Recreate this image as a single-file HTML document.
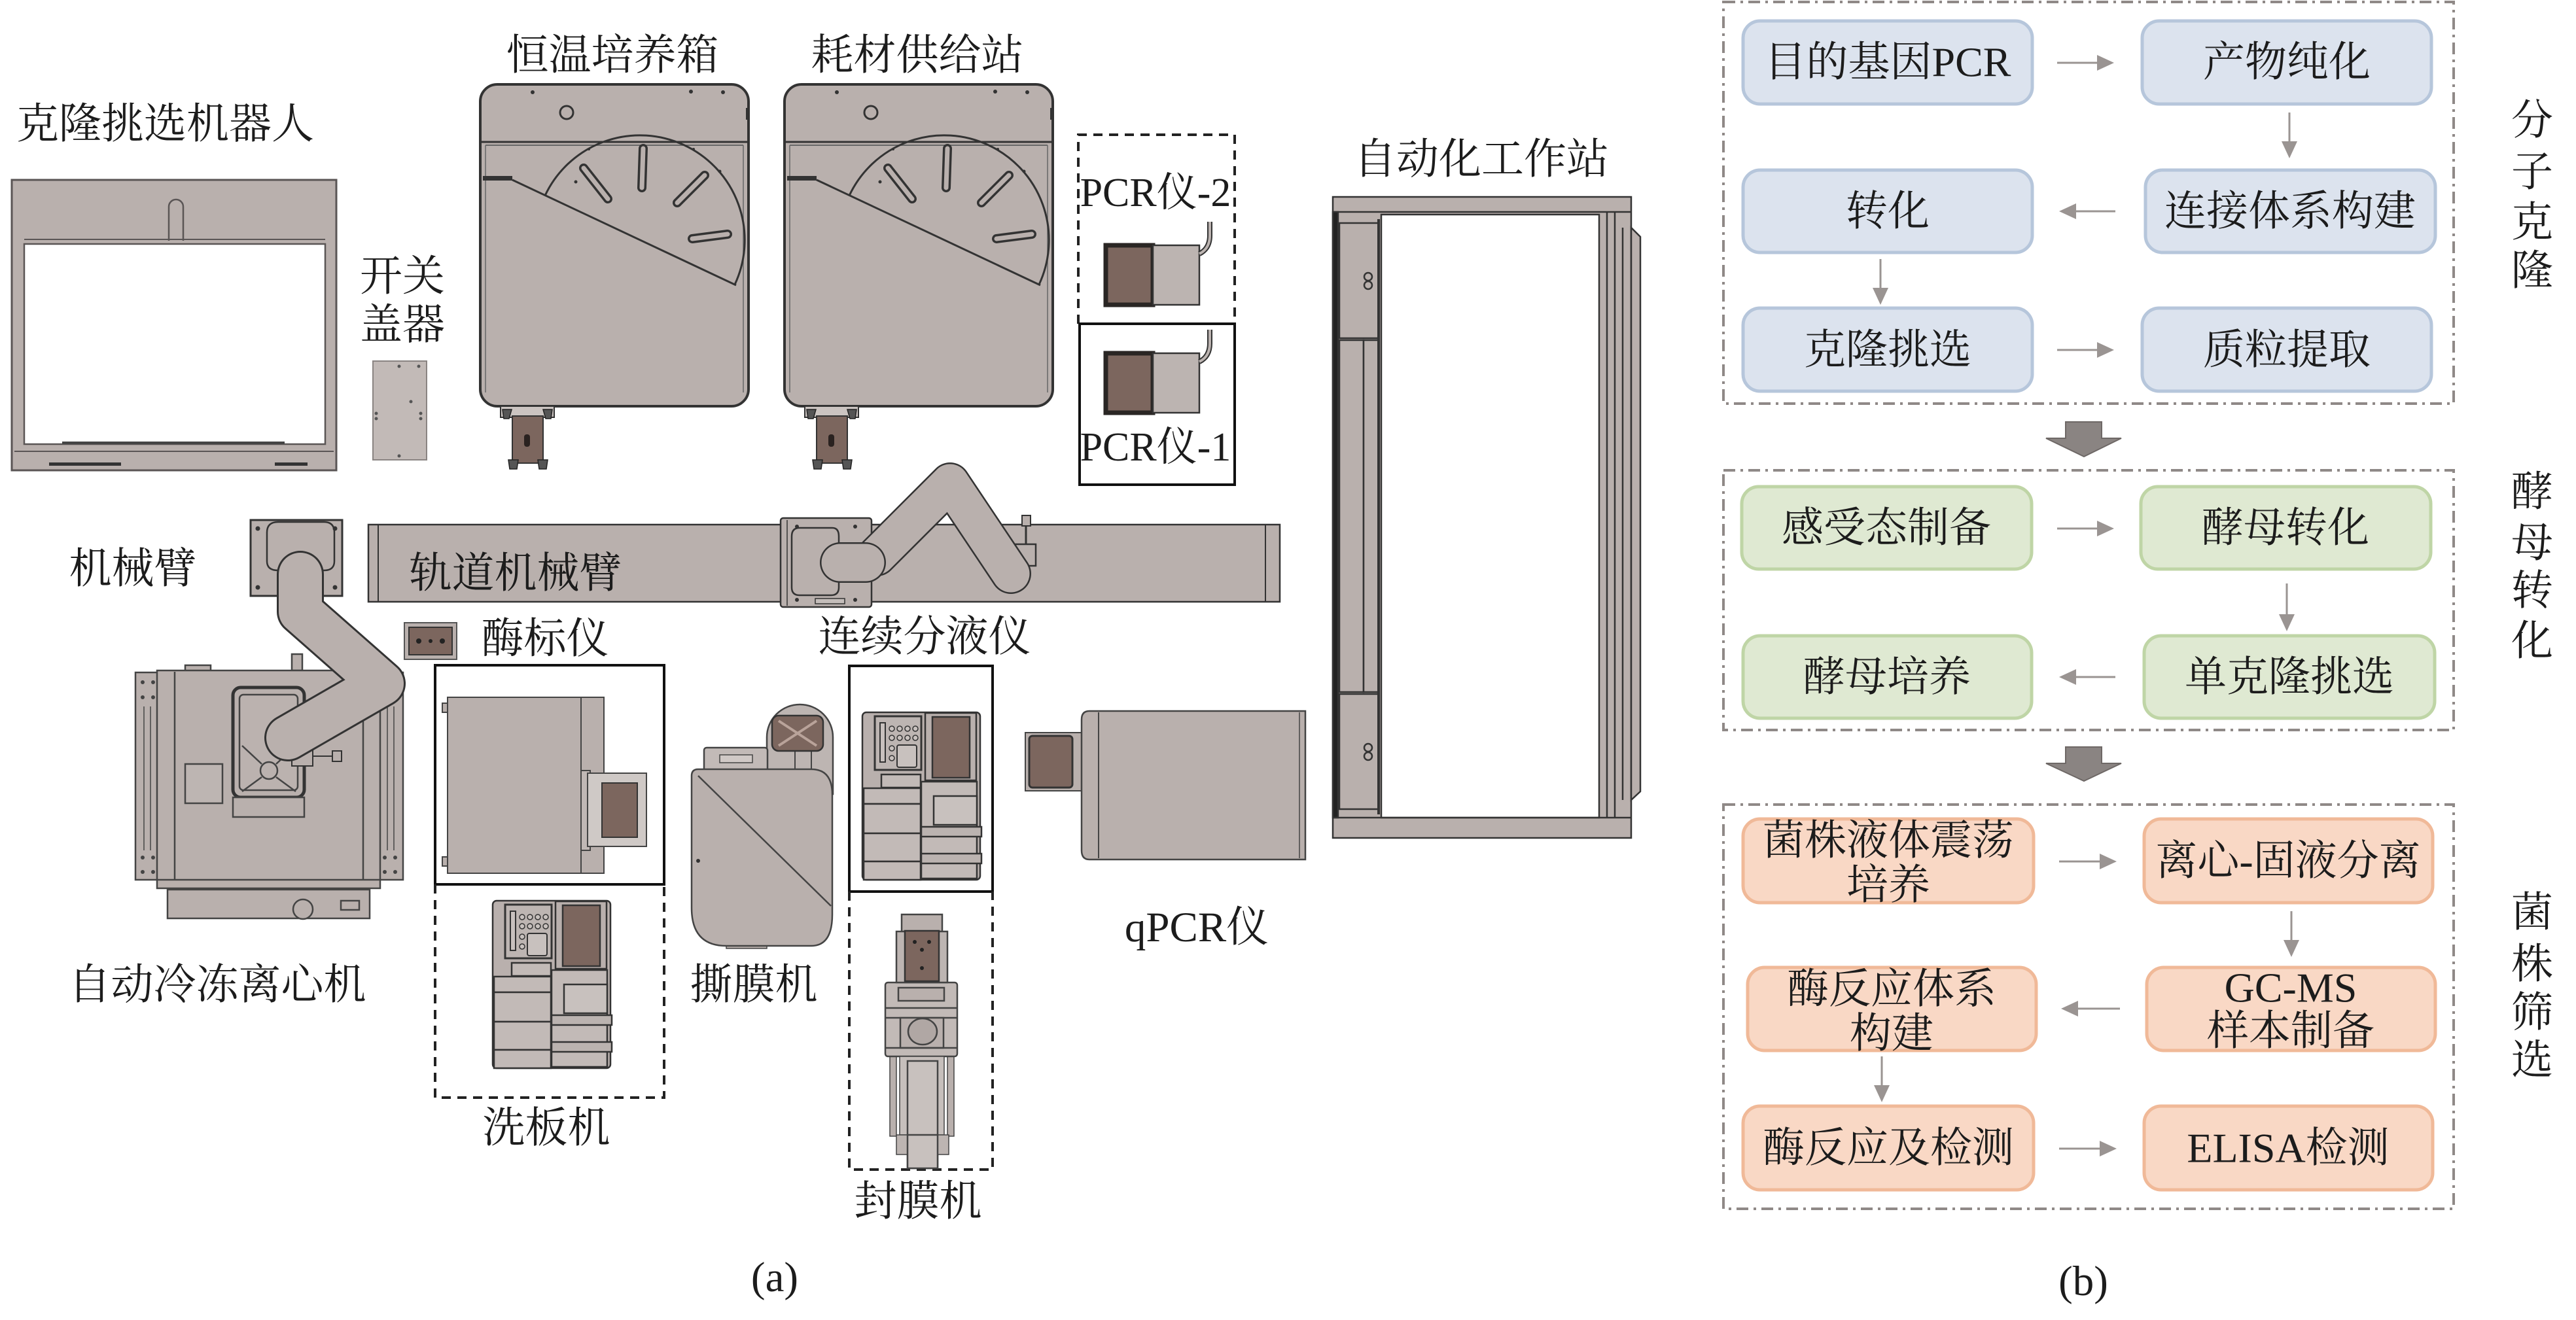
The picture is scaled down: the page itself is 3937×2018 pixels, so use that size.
<!DOCTYPE html>
<html><head><meta charset="utf-8">
<style>
html,body{margin:0;padding:0;background:#fff;}
svg{display:block;}
text{font-family:"Liberation Serif","Noto Serif CJK SC",serif;fill:#1c1c1c;}
</style></head>
<body>
<svg width="3937" height="2018" viewBox="0 0 3937 2018" xmlns="http://www.w3.org/2000/svg">
<rect x="0" y="0" width="3937" height="2018" fill="#fff"/>

<!-- ============ (a) ============ -->
<!-- cloning robot frame -->
<g stroke="#5a5555" stroke-width="3">
  <rect x="18" y="275" width="496" height="444" fill="#b9b0ad"/>
  <rect x="37" y="373" width="460" height="306" fill="#fff" stroke-width="2.5"/>
  <line x1="37" y1="366" x2="497" y2="366" stroke-width="2"/>
  <line x1="22" y1="690" x2="510" y2="690" stroke-width="2"/>
  <path d="M258,368 V316 a11,11 0 0 1 22,0 V368" fill="none" stroke-width="2.5"/>
  <rect x="75" y="707" width="110" height="5" fill="#333" stroke="none"/>
  <rect x="420" y="707" width="50" height="5" fill="#333" stroke="none"/>
  <rect x="95" y="675" width="340" height="4" fill="#444" stroke="none"/>
</g>
<!-- switch lid -->
<rect x="570" y="552" width="82" height="151" fill="#c2bab7" stroke="#8a8482" stroke-width="2"/>
<g fill="#555"><circle cx="610" cy="560" r="2.5"/><circle cx="640" cy="560" r="2.5"/><circle cx="575" cy="632" r="2.5"/><circle cx="575" cy="640" r="2.5"/><circle cx="628" cy="614" r="2.5"/><circle cx="643" cy="632" r="2.5"/><circle cx="643" cy="640" r="2.5"/><circle cx="610" cy="697" r="2.5"/></g>

<!-- incubator -->
<g id="inc">
  <rect x="734" y="129" width="410" height="492" rx="26" fill="#b9b0ad" stroke="#333" stroke-width="4"/>
  <line x1="736" y1="217" x2="1142" y2="217" stroke="#333" stroke-width="3"/>
  <line x1="742" y1="222" x2="1136" y2="222" stroke="#666" stroke-width="2"/>
  <line x1="742" y1="222" x2="742" y2="600" stroke="#666" stroke-width="1.5"/>
  <line x1="1136" y1="222" x2="1136" y2="600" stroke="#666" stroke-width="1.5"/>
  <rect x="738" y="269" width="45" height="7" fill="#333"/>
  <line x1="783" y1="275" x2="1125" y2="436" stroke="#333" stroke-width="3"/>
  <path d="M833,299 A160,160 0 0 1 1123,435" fill="none" stroke="#333" stroke-width="3"/>
  <g stroke-linecap="round">
    <line x1="929" y1="304" x2="892" y2="257" stroke="#333" stroke-width="14"/>
    <line x1="929" y1="304" x2="892" y2="257" stroke="#b9b0ad" stroke-width="7"/>
    <line x1="981" y1="287" x2="983" y2="227" stroke="#333" stroke-width="14"/>
    <line x1="981" y1="287" x2="983" y2="227" stroke="#b9b0ad" stroke-width="7"/>
    <line x1="1035" y1="310" x2="1077" y2="268" stroke="#333" stroke-width="14"/>
    <line x1="1035" y1="310" x2="1077" y2="268" stroke="#b9b0ad" stroke-width="7"/>
    <line x1="1058" y1="365" x2="1112" y2="358" stroke="#333" stroke-width="14"/>
    <line x1="1058" y1="365" x2="1112" y2="358" stroke="#b9b0ad" stroke-width="7"/>
  </g>
  <circle cx="866" cy="172" r="10" fill="none" stroke="#333" stroke-width="3"/>
  <g fill="#333"><circle cx="814" cy="141" r="3"/><circle cx="1056" cy="140" r="3"/><circle cx="1105" cy="141" r="3"/><circle cx="900" cy="228" r="2"/><circle cx="1060" cy="228" r="2"/><circle cx="1100" cy="262" r="2.5"/><circle cx="880" cy="278" r="2.5"/></g>
  <rect x="1140" y="165" width="6" height="18" fill="#333"/>
  <!-- foot -->
  <rect x="765" y="621" width="82" height="17" fill="#cbc4c1" stroke="#333" stroke-width="2"/>
  <rect x="783" y="636" width="47" height="72" fill="#7c665e" stroke="#333" stroke-width="2"/>
  <rect x="801" y="664" width="9" height="19" rx="4" fill="#2a2220"/>
  <g fill="#555" stroke="#222" stroke-width="1.5">
    <polygon points="768,626 782,626 778,640 770,640"/>
    <polygon points="830,626 844,626 842,640 834,640"/>
    <polygon points="777,703 792,703 790,717 779,717"/>
    <polygon points="822,703 837,703 835,717 824,717"/>
  </g>
</g>
<use href="#inc" x="465" y="0"/>

<!-- PCR boxes -->
<path d="M1648,495 V206 H1887 V495" fill="none" stroke="#222" stroke-width="4" stroke-dasharray="14 10"/>
<rect x="1650" y="495" width="237" height="246" fill="none" stroke="#111" stroke-width="4"/>
<g id="pcr">
  <rect x="1690" y="375" width="72" height="91" fill="#7c665e" stroke="#2a2624" stroke-width="7"/>
  <rect x="1762" y="375" width="71" height="91" fill="#bcb4b1" stroke="#333" stroke-width="2.5"/>
  <path d="M1833,388 Q1849,380 1849,360 V339" fill="none" stroke="#333" stroke-width="8"/>
  <path d="M1833,388 Q1849,380 1849,360 V339" fill="none" stroke="#bcb4b1" stroke-width="4"/>
</g>
<use href="#pcr" x="0" y="165"/>

<!-- workstation -->
<g stroke="#333" stroke-width="2.5">
  <rect x="2037" y="301" width="456" height="980" fill="#b9b0ad"/>
  <rect x="2111" y="328" width="333" height="922" fill="#fff"/>
  <line x1="2037" y1="324" x2="2493" y2="324"/>
  <line x1="2037" y1="1250" x2="2493" y2="1250"/>
  <rect x="2037" y="324" width="8" height="926" fill="#222"/>
  <rect x="2047" y="341" width="60" height="176" fill="#b9b0ad"/>
  <rect x="2047" y="520" width="37" height="538" fill="#b9b0ad"/>
  <rect x="2084" y="520" width="23" height="538" fill="#b9b0ad"/>
  <rect x="2047" y="1061" width="60" height="176" fill="#b9b0ad"/>
  <line x1="2107" y1="335" x2="2107" y2="1245" stroke-width="4"/>
  <line x1="2456" y1="324" x2="2456" y2="1250"/>
  <line x1="2468" y1="324" x2="2468" y2="1250"/>
  <line x1="2480" y1="348" x2="2480" y2="1223"/>
  <path d="M2493,348 L2507,362 V1210 L2493,1223Z" fill="#b9b0ad"/>
  <circle cx="2091" cy="423" r="6" fill="none" stroke-width="2.5"/>
  <circle cx="2091" cy="436" r="6" fill="none" stroke-width="2.5"/>
  <circle cx="2091" cy="1143" r="6" fill="none" stroke-width="2.5"/>
  <circle cx="2091" cy="1156" r="6" fill="none" stroke-width="2.5"/>
</g>

<!-- rail -->
<g stroke="#333" stroke-width="2.5">
  <rect x="563" y="802" width="1393" height="118" fill="#b9b0ad"/>
  <line x1="578" y1="803" x2="578" y2="919" stroke-width="2"/>
  <line x1="1934" y1="803" x2="1934" y2="919" stroke-width="2"/>
  <rect x="1193" y="792" width="139" height="136" rx="4" fill="#b9b0ad"/>
  <line x1="1203" y1="795" x2="1203" y2="926" stroke-width="1.5"/>
  <path d="M1222,807 H1272 Q1282,807 1282,820 V898 Q1282,910 1270,910 H1222 Q1210,910 1210,898 V820 Q1210,807 1222,807Z" fill="#b9b0ad"/>
  <rect x="1246" y="915" width="45" height="8" fill="#c4bdba" stroke-width="1.5"/>
  <rect x="1542" y="832" width="41" height="33" fill="#b9b0ad"/>
  <line x1="1568" y1="800" x2="1568" y2="832" stroke-width="3"/>
  <rect x="1562" y="788" width="13" height="16" fill="#b9b0ad" stroke-width="2"/>
</g>
<g fill="#333"><circle cx="1218" cy="805" r="3"/><circle cx="1307" cy="805" r="3"/><circle cx="1218" cy="917" r="3"/><circle cx="1307" cy="917" r="3"/></g>
<g fill="none" stroke-linecap="round" stroke-linejoin="round">
  <polyline points="1340,850 1452,738 1545,877" stroke="#333" stroke-width="62"/>
  <polyline points="1340,850 1452,738 1545,877" stroke="#b9b0ad" stroke-width="57"/>
  <line x1="1284" y1="860" x2="1323" y2="860" stroke="#333" stroke-width="62"/>
  <line x1="1284" y1="860" x2="1323" y2="860" stroke="#b9b0ad" stroke-width="57"/>
</g>
<rect x="1282" y="832" width="6" height="56" fill="#b9b0ad"/>

<!-- centrifuge -->
<g stroke="#444" stroke-width="2.5">
  <rect x="207" y="1028" width="35" height="317" fill="#b9b0ad"/>
  <rect x="579" y="1028" width="37" height="317" fill="#b9b0ad"/>
  <line x1="220" y1="1080" x2="220" y2="1300" stroke-width="1.5"/>
  <line x1="230" y1="1080" x2="230" y2="1300" stroke-width="1.5"/>
  <line x1="592" y1="1080" x2="592" y2="1300" stroke-width="1.5"/>
  <line x1="602" y1="1080" x2="602" y2="1300" stroke-width="1.5"/>
  <rect x="283" y="1017" width="39" height="11" fill="#b9b0ad"/>
  <rect x="446" y="1000" width="16" height="25" fill="#b9b0ad"/>
  <rect x="240" y="1025" width="341" height="333" fill="#b9b0ad"/>
  <line x1="267" y1="1027" x2="267" y2="1345"/>
  <line x1="555" y1="1027" x2="555" y2="1345"/>
  <line x1="240" y1="1345" x2="581" y2="1345"/>
  <rect x="256" y="1360" width="309" height="44" fill="#b9b0ad"/>
  <circle cx="463" cy="1390" r="15" fill="#b9b0ad"/>
  <rect x="521" y="1377" width="28" height="14" fill="#b9b0ad"/>
  <rect x="283" y="1168" width="57" height="60" fill="#bdb5b2"/>
  <rect x="356" y="1051" width="109" height="168" rx="12" fill="#b9b0ad" stroke-width="5" stroke="#333"/>
  <rect x="366" y="1062" width="89" height="146" rx="6" fill="#bbb2af"/>
  <rect x="356" y="1219" width="109" height="30" fill="#b9b0ad"/>
  <circle cx="411" cy="1178" r="13" fill="none"/>
  <line x1="370" y1="1140" x2="400" y2="1168"/><line x1="452" y1="1140" x2="422" y2="1168"/>
  <line x1="370" y1="1210" x2="400" y2="1188"/><line x1="452" y1="1210" x2="422" y2="1188"/>
</g>
<g fill="#444">
  <circle cx="218" cy="1043" r="3"/><circle cx="234" cy="1043" r="3"/><circle cx="218" cy="1066" r="3"/><circle cx="234" cy="1066" r="3"/>
  <circle cx="218" cy="1311" r="3"/><circle cx="234" cy="1311" r="3"/><circle cx="218" cy="1333" r="3"/><circle cx="234" cy="1333" r="3"/>
  <circle cx="588" cy="1043" r="3"/><circle cx="604" cy="1043" r="3"/><circle cx="588" cy="1066" r="3"/><circle cx="604" cy="1066" r="3"/>
  <circle cx="588" cy="1311" r="3"/><circle cx="604" cy="1311" r="3"/><circle cx="588" cy="1333" r="3"/><circle cx="604" cy="1333" r="3"/>
</g>
<!-- left robot arm -->
<rect x="383" y="795" width="140" height="116" fill="#b9b0ad" stroke="#333" stroke-width="3"/>
<path d="M425,798 H495 Q511,798 511,814 V858 Q511,872 495,872 H425 Q408,872 408,858 V814 Q408,798 425,798Z" fill="#b9b0ad" stroke="#333" stroke-width="2.5"/>
<g fill="#333"><circle cx="394" cy="808" r="3.5"/><circle cx="512" cy="808" r="3.5"/><circle cx="394" cy="898" r="3.5"/><circle cx="512" cy="898" r="3.5"/></g>
<rect x="446" y="1143" width="32" height="28" fill="#b9b0ad" stroke="#333" stroke-width="2"/>
<line x1="478" y1="1156" x2="518" y2="1156" stroke="#333" stroke-width="2"/>
<rect x="508" y="1148" width="14" height="16" fill="#b9b0ad" stroke="#333" stroke-width="2"/>
<g fill="none" stroke-linecap="round" stroke-linejoin="round">
  <polyline points="459,878 459,935 584,1045 440,1128" stroke="#333" stroke-width="72"/>
  <polyline points="459,878 459,935 584,1045 440,1128" stroke="#b9b0ad" stroke-width="66"/>
</g>

<!-- small plate reader icon -->
<rect x="618" y="952" width="80" height="56" fill="#b9b0ad" stroke="#555" stroke-width="2"/>
<rect x="625" y="959" width="66" height="42" fill="#7c665e" stroke="#333" stroke-width="2"/>
<g fill="#222"><circle cx="640" cy="980" r="4"/><circle cx="658" cy="980" r="3"/><circle cx="676" cy="980" r="4"/></g>

<!-- plate reader box + washer box -->
<rect x="665" y="1017" width="350" height="335" fill="none" stroke="#111" stroke-width="4"/>
<path d="M665,1352 V1678 H1015 V1352" fill="none" stroke="#222" stroke-width="4" stroke-dasharray="14 10"/>
<g stroke="#444" stroke-width="2">
  <rect x="684" y="1066" width="239" height="269" fill="#b9b0ad"/>
  <line x1="888" y1="1066" x2="888" y2="1335"/>
  <rect x="676" y="1075" width="8" height="14" fill="#b9b0ad"/>
  <rect x="676" y="1310" width="8" height="14" fill="#b9b0ad"/>
  <rect x="888" y="1178" width="14" height="122" fill="#c0b8b5"/>
  <rect x="898" y="1182" width="90" height="112" fill="#cfc9c6"/>
  <rect x="920" y="1197" width="54" height="83" fill="#7c665e" stroke="#333"/>
</g>

<!-- washer (reused for dispenser) -->
<g id="wash" stroke="#333" stroke-width="2.5">
  <rect x="753" y="1377" width="180" height="256" rx="6" fill="#b9b0ad"/>
  <rect x="772" y="1383" width="71" height="82" fill="#bdb5b2" stroke-width="3"/>
  <rect x="780" y="1393" width="8" height="60" fill="#c8c1be" stroke-width="2"/>
  <g fill="#c8c1be" stroke-width="1.5"><circle cx="798" cy="1402" r="4"/><circle cx="810" cy="1402" r="4"/><circle cx="822" cy="1402" r="4"/><circle cx="834" cy="1402" r="4"/><circle cx="798" cy="1416" r="4"/><circle cx="810" cy="1416" r="4"/><circle cx="822" cy="1416" r="4"/><circle cx="834" cy="1416" r="4"/><circle cx="798" cy="1432" r="4"/><circle cx="798" cy="1447" r="4"/></g>
  <rect x="806" y="1427" width="30" height="34" rx="3" fill="#c8c1be" stroke-width="2"/>
  <rect x="782" y="1472" width="60" height="20" fill="#c2bab7"/>
  <rect x="755" y="1493" width="87" height="24" fill="#c2bab7"/>
  <rect x="755" y="1517" width="87" height="45" fill="#c2bab7"/>
  <rect x="755" y="1562" width="87" height="43" fill="#c2bab7"/>
  <rect x="755" y="1605" width="87" height="28" fill="#c2bab7"/>
  <rect x="849" y="1378" width="78" height="103" fill="#b9b0ad"/>
  <rect x="860" y="1384" width="57" height="93" fill="#7c665e"/>
  <rect x="843" y="1483" width="85" height="148" fill="#c2bab7"/>
  <rect x="862" y="1505" width="66" height="44" fill="#c8c1be"/>
  <rect x="843" y="1552" width="92" height="15" fill="#bbb3b0"/>
  <rect x="843" y="1593" width="92" height="15" fill="#bbb3b0"/>
</g>

<!-- dispenser box + sealer box -->
<rect x="1298" y="1018" width="219" height="345" fill="none" stroke="#111" stroke-width="4"/>
<path d="M1298,1363 V1788 H1517 V1363" fill="none" stroke="#222" stroke-width="4" stroke-dasharray="14 10"/>
<use href="#wash" x="565" y="-288"/>

<!-- sealer -->
<g stroke="#444" stroke-width="2.5">
  <rect x="1360" y="1612" width="10" height="125" fill="#b9b0ad" stroke-width="1.5"/>
  <rect x="1448" y="1612" width="10" height="125" fill="#b9b0ad" stroke-width="1.5"/>
  <rect x="1353" y="1502" width="110" height="113" rx="4" fill="#c2bab7"/>
  <rect x="1373" y="1510" width="70" height="20" fill="#b9b0ad"/>
  <line x1="1353" y1="1541" x2="1463" y2="1541"/>
  <line x1="1353" y1="1556" x2="1463" y2="1556"/>
  <rect x="1376" y="1556" width="66" height="46" fill="#b9b0ad"/>
  <ellipse cx="1410" cy="1577" rx="22" ry="20" fill="#b0a7a4"/>
  <line x1="1353" y1="1602" x2="1463" y2="1602"/>
  <rect x="1375" y="1615" width="68" height="120" fill="#c6bfbc" stroke-width="1.5"/>
  <rect x="1387" y="1622" width="46" height="164" fill="#c8c1be"/>
  <rect x="1370" y="1735" width="80" height="30" fill="#bdb5b2" stroke-width="1.5"/>
  <rect x="1387" y="1735" width="46" height="51" fill="#c8c1be"/>
  <rect x="1378" y="1398" width="62" height="27" fill="#b9b0ad"/>
  <rect x="1370" y="1424" width="78" height="78" fill="#bdb5b2"/>
  <rect x="1383" y="1423" width="52" height="77" fill="#7c665e" stroke="#333"/>
</g>
<g fill="#222"><circle cx="1398" cy="1440" r="3"/><circle cx="1420" cy="1440" r="3"/><circle cx="1409" cy="1452" r="3"/><circle cx="1409" cy="1480" r="3"/></g>

<!-- peeler -->
<g stroke="#444" stroke-width="2.5">
  <path d="M1172,1214 V1127 a50.5,50 0 0 1 101,0 V1214Z" fill="#bdb5b2"/>
  <line x1="1215" y1="1148" x2="1215" y2="1176" stroke-width="2"/>
  <line x1="1240" y1="1148" x2="1240" y2="1176" stroke-width="2"/>
  <rect x="1180" y="1094" width="78" height="54" rx="10" fill="#7c665e" stroke="#333"/>
  <path d="M1190,1102 L1248,1140 M1248,1102 L1190,1140" stroke="#b9a39a" stroke-width="4"/>
  <rect x="1076" y="1143" width="97" height="36" rx="4" fill="#c2bab7"/>
  <rect x="1100" y="1154" width="50" height="12" fill="#d0c9c6" stroke-width="1.5"/>
  <rect x="1110" y="1444" width="62" height="6" fill="#b9b0ad" stroke-width="1.5"/>
  <path d="M1067,1176 H1240 Q1272,1176 1272,1215 V1398 Q1272,1446 1240,1446 H1110 Q1057,1446 1057,1388 V1186 Q1057,1176 1067,1176Z" fill="#b9b0ad"/>
  <line x1="1067" y1="1186" x2="1270" y2="1385"/>
</g>
<circle cx="1067" cy="1316" r="3" fill="#333"/>

<!-- qPCR -->
<g stroke="#444" stroke-width="2.5">
  <rect x="1567" y="1120" width="86" height="89" fill="#b9b0ad" stroke-width="2"/>
  <rect x="1573" y="1125" width="66" height="79" rx="5" fill="#7c665e" stroke="#333" stroke-width="3"/>
  <path d="M1665,1087 H1995 V1314 H1665 Q1653,1314 1653,1300 V1100 Q1653,1087 1665,1087Z" fill="#b9b0ad"/>
  <line x1="1679" y1="1089" x2="1679" y2="1312" stroke-width="2"/>
  <line x1="1986" y1="1089" x2="1986" y2="1312" stroke-width="1.5"/>
</g>

<!-- (a) labels -->
<g font-size="65" dominant-baseline="central">
  <text x="25" y="190">克隆挑选机器人</text>
  <text x="615" y="423" text-anchor="middle">开关</text>
  <text x="615" y="497" text-anchor="middle">盖器</text>
  <text x="936" y="85" text-anchor="middle">恒温培养箱</text>
  <text x="1402" y="85" text-anchor="middle">耗材供给站</text>
  <text x="1766" y="295" text-anchor="middle" font-size="62">PCR仪-2</text>
  <text x="1766" y="684" text-anchor="middle" font-size="62">PCR仪-1</text>
  <text x="2264" y="244" text-anchor="middle">自动化工作站</text>
  <text x="203" y="870" text-anchor="middle">机械臂</text>
  <text x="788" y="877" text-anchor="middle">轨道机械臂</text>
  <text x="833" y="977" text-anchor="middle">酶标仪</text>
  <text x="1413" y="974" text-anchor="middle">连续分液仪</text>
  <text x="332" y="1506" text-anchor="middle">自动冷冻离心机</text>
  <text x="1152" y="1506" text-anchor="middle">撕膜机</text>
  <text x="1829" y="1418" text-anchor="middle">qPCR仪</text>
  <text x="835" y="1725" text-anchor="middle">洗板机</text>
  <text x="1403" y="1837" text-anchor="middle">封膜机</text>
  <text x="1184" y="1953" text-anchor="middle">(a)</text>
  <text x="3184" y="1959" text-anchor="middle">(b)</text>
</g>

<!-- ============ (b) ============ -->
<g fill="none" stroke="#8f8987" stroke-width="4" stroke-dasharray="18 8 4 8">
  <rect x="2634" y="3" width="1116" height="614"/>
  <rect x="2634" y="719" width="1116" height="397"/>
  <rect x="2634" y="1230" width="1116" height="618"/>
</g>

<g stroke-width="5">
  <g fill="#dce3ee" stroke="#b6c6db">
    <rect x="2664" y="32" width="442" height="127" rx="26"/>
    <rect x="3274" y="32" width="442" height="127" rx="26"/>
    <rect x="2664" y="260" width="442" height="126" rx="26"/>
    <rect x="3279" y="260" width="443" height="126" rx="26"/>
    <rect x="2664" y="471" width="442" height="127" rx="26"/>
    <rect x="3274" y="471" width="442" height="127" rx="26"/>
  </g>
  <g fill="#dfe9d2" stroke="#bfd5a6">
    <rect x="2662" y="744" width="443" height="126" rx="26"/>
    <rect x="3272" y="744" width="443" height="126" rx="26"/>
    <rect x="2664" y="972" width="441" height="126" rx="26"/>
    <rect x="3277" y="972" width="444" height="126" rx="26"/>
  </g>
  <g fill="#f9d8c5" stroke="#f0b998">
    <rect x="2664" y="1252" width="444" height="128" rx="26"/>
    <rect x="3277" y="1252" width="441" height="128" rx="26"/>
    <rect x="2671" y="1479" width="441" height="127" rx="26"/>
    <rect x="3281" y="1479" width="441" height="127" rx="26"/>
    <rect x="2664" y="1691" width="444" height="128" rx="26"/>
    <rect x="3277" y="1691" width="441" height="128" rx="26"/>
  </g>
</g>

<!-- small arrows -->
<g stroke="#9a9492" stroke-width="3" fill="#9a9492">
  <line x1="3144" y1="96" x2="3208" y2="96"/><polygon points="3231,96 3205,84 3205,108" stroke="none"/>
  <line x1="3499" y1="172" x2="3499" y2="218"/><polygon points="3499,242 3487,216 3511,216" stroke="none"/>
  <line x1="3233" y1="323" x2="3170" y2="323"/><polygon points="3147,323 3173,311 3173,335" stroke="none"/>
  <line x1="2874" y1="396" x2="2874" y2="442"/><polygon points="2874,466 2862,440 2886,440" stroke="none"/>
  <line x1="3144" y1="535" x2="3208" y2="535"/><polygon points="3231,535 3205,523 3205,547" stroke="none"/>

  <line x1="3144" y1="808" x2="3208" y2="808"/><polygon points="3231,808 3205,796 3205,820" stroke="none"/>
  <line x1="3495" y1="892" x2="3495" y2="941"/><polygon points="3495,965 3483,939 3507,939" stroke="none"/>
  <line x1="3233" y1="1035" x2="3170" y2="1035"/><polygon points="3147,1035 3173,1023 3173,1047" stroke="none"/>

  <line x1="3147" y1="1317" x2="3212" y2="1317"/><polygon points="3235,1317 3209,1305 3209,1329" stroke="none"/>
  <line x1="3502" y1="1393" x2="3502" y2="1439"/><polygon points="3502,1463 3490,1437 3514,1437" stroke="none"/>
  <line x1="3240" y1="1542" x2="3173" y2="1542"/><polygon points="3150,1542 3176,1530 3176,1554" stroke="none"/>
  <line x1="2876" y1="1615" x2="2876" y2="1661"/><polygon points="2876,1685 2864,1659 2888,1659" stroke="none"/>
  <line x1="3147" y1="1756" x2="3212" y2="1756"/><polygon points="3235,1756 3209,1744 3209,1768" stroke="none"/>
</g>

<!-- big arrows -->
<g fill="#8a8482" stroke="#6e6866" stroke-width="2">
  <polygon points="3157,645 3212,645 3212,670 3242,670 3185,698 3127,670 3157,670"/>
  <polygon points="3157,1142 3212,1142 3212,1167 3242,1167 3185,1194 3127,1167 3157,1167"/>
</g>

<!-- box texts -->
<g font-size="64" dominant-baseline="central" text-anchor="middle">
  <text x="2885" y="95">目的基因PCR</text>
  <text x="3495" y="95">产物纯化</text>
  <text x="2885" y="323">转化</text>
  <text x="3500" y="323">连接体系构建</text>
  <text x="2885" y="535">克隆挑选</text>
  <text x="3495" y="535">质粒提取</text>

  <text x="2883" y="807">感受态制备</text>
  <text x="3493" y="807">酵母转化</text>
  <text x="2884" y="1035">酵母培养</text>
  <text x="3499" y="1035">单克隆挑选</text>

  <text x="2886" y="1285">菌株液体震荡</text>
  <text x="2886" y="1353">培养</text>
  <text x="3497" y="1316">离心-固液分离</text>
  <text x="2891" y="1512">酶反应体系</text>
  <text x="2891" y="1580">构建</text>
  <text x="3501" y="1510">GC-MS</text>
  <text x="3501" y="1576">样本制备</text>
  <text x="2886" y="1755">酶反应及检测</text>
  <text x="3497" y="1755">ELISA检测</text>

  <text x="3870" y="184">分</text>
  <text x="3870" y="263">子</text>
  <text x="3870" y="340">克</text>
  <text x="3870" y="414">隆</text>

  <text x="3870" y="752">酵</text>
  <text x="3870" y="830">母</text>
  <text x="3870" y="903">转</text>
  <text x="3870" y="980">化</text>

  <text x="3870" y="1395">菌</text>
  <text x="3870" y="1474">株</text>
  <text x="3870" y="1548">筛</text>
  <text x="3870" y="1621">选</text>
</g>
</svg>
</body></html>
